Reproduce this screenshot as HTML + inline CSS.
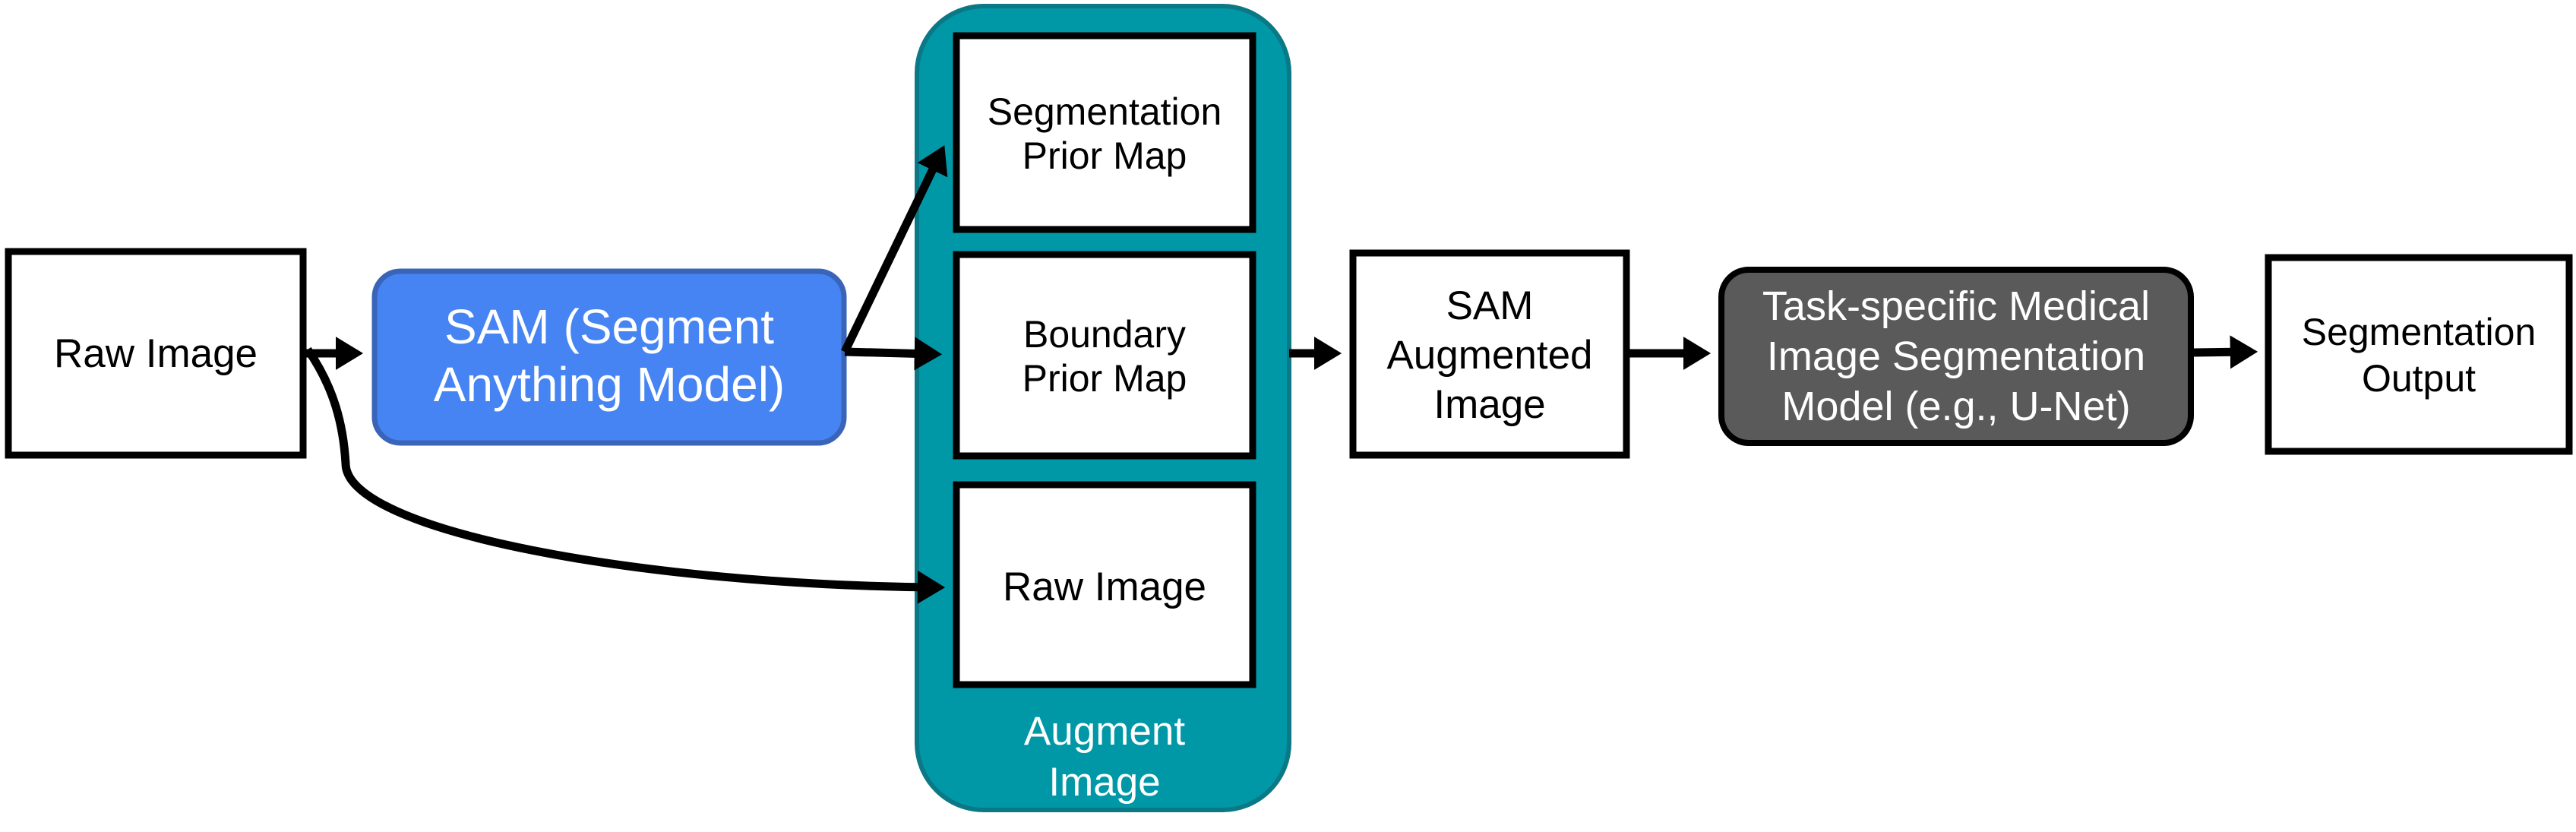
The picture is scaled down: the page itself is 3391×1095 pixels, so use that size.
<!DOCTYPE html>
<html><head><style>
html,body{margin:0;padding:0;background:#fff;}
svg{display:block;}
text{font-family:"Liberation Sans",sans-serif;}
</style></head><body>
<svg width="3391" height="1095" viewBox="0 0 3391 1095" xmlns="http://www.w3.org/2000/svg">
<defs>
<marker id="ah" markerWidth="4" markerHeight="4" refX="2.2" refY="2" orient="auto" markerUnits="strokeWidth">
<path d="M0,0 L3.3,2 L0,4 z" fill="#000"/>
</marker>
</defs>
<rect x="1207" y="8" width="490" height="1058" rx="88" fill="#0097a7" stroke="#0b7885" stroke-width="6"/>
<rect x="11" y="331" width="388" height="268" fill="#fff" stroke="#000" stroke-width="9"/>
<text x="205" y="483" font-size="53" text-anchor="middle">Raw Image</text>
<rect x="493" y="357" width="618" height="226" rx="34" fill="#4584f2" stroke="#3a64b8" stroke-width="7"/>
<text x="802" y="452" font-size="64" fill="#fff" text-anchor="middle">SAM (Segment</text>
<text x="802" y="528" font-size="64" fill="#fff" text-anchor="middle">Anything Model)</text>
<rect x="1259" y="47" width="390" height="255" fill="#fff" stroke="#000" stroke-width="9"/>
<text x="1454" y="164" font-size="50" text-anchor="middle">Segmentation</text>
<text x="1454" y="222" font-size="50" text-anchor="middle">Prior Map</text>
<rect x="1259" y="335" width="390" height="265" fill="#fff" stroke="#000" stroke-width="9"/>
<text x="1454" y="457" font-size="50" text-anchor="middle">Boundary</text>
<text x="1454" y="515" font-size="50" text-anchor="middle">Prior Map</text>
<rect x="1259" y="638" width="390" height="263" fill="#fff" stroke="#000" stroke-width="9"/>
<text x="1454" y="790" font-size="53" text-anchor="middle">Raw Image</text>
<text x="1454" y="980" font-size="53" fill="#fff" text-anchor="middle">Augment</text>
<text x="1454" y="1047" font-size="53" fill="#fff" text-anchor="middle">Image</text>
<rect x="1781" y="333" width="360" height="266" fill="#fff" stroke="#000" stroke-width="9"/>
<text x="1961" y="420" font-size="53" text-anchor="middle">SAM</text>
<text x="1961" y="485" font-size="53" text-anchor="middle">Augmented</text>
<text x="1961" y="550" font-size="53" text-anchor="middle">Image</text>
<rect x="2266" y="355" width="618" height="228" rx="36" fill="#5a5a5a" stroke="#000" stroke-width="8"/>
<text x="2575" y="421" font-size="54" fill="#fff" text-anchor="middle">Task-specific Medical</text>
<text x="2575" y="487" font-size="54" fill="#fff" text-anchor="middle">Image Segmentation</text>
<text x="2575" y="553" font-size="54" fill="#fff" text-anchor="middle">Model (e.g., U-Net)</text>
<rect x="2986" y="339" width="396" height="255" fill="#fff" stroke="#000" stroke-width="9"/>
<text x="3184" y="454" font-size="50" text-anchor="middle">Segmentation</text>
<text x="3184" y="515" font-size="50" text-anchor="middle">Output</text>
<g stroke="#000" stroke-width="11" fill="none">
<line x1="403" y1="465" x2="466" y2="465" marker-end="url(#ah)"/>
<line x1="1112" y1="463" x2="1228" y2="466" marker-end="url(#ah)"/>
<line x1="1112" y1="463" x2="1238" y2="202" marker-end="url(#ah)"/>
<path d="M405,460 C440,510 452,560 455,610 C455,700 850,770 1232,773" marker-end="url(#ah)"/>
<line x1="1697" y1="465" x2="1754" y2="465" marker-end="url(#ah)"/>
<line x1="2145" y1="465" x2="2240" y2="465" marker-end="url(#ah)"/>
<line x1="2888" y1="464" x2="2960" y2="463" marker-end="url(#ah)"/>
</g>
</svg>
</body></html>
